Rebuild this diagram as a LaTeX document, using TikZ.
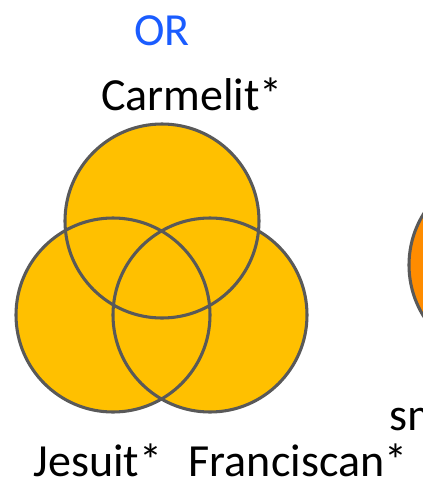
\documentclass[tikz,border=0pt]{standalone}
\usepackage{fontspec}
\setmainfont{Carlito}
\usetikzlibrary{positioning}
\definecolor{gold}{HTML}{FFC000}
\definecolor{tang}{HTML}{FF8C00}
\definecolor{rim}{HTML}{595959}
\definecolor{orblue}{HTML}{1A5CFF}
\tikzset{
  rimline/.style={draw=rim,line width=2.3pt},
  lbl/.style={font=\fontsize{34.5}{40}\selectfont,anchor=base,inner sep=0pt}
}
\begin{document}
\begin{tikzpicture}[x=0.75pt,y=-0.75pt]
  \useasboundingbox (0,0) rectangle (423,483);
  \clip (0,0) rectangle (423,483);
  % the three order circles, filled first and outlined after
  \foreach \cx/\cy in {162/221, 113/315, 210/315}
    \fill[gold] (\cx,\cy) circle[radius=97];
  \foreach \cx/\cy in {162/221, 113/315, 210/315}
    \draw[rimline] (\cx,\cy) circle[radius=97];
  % part of the next figure, cut by the page edge
  \draw[rimline,fill=tang] (506,265) circle[radius=97];
  % labels
  \node[lbl,text=orblue] (or) at (162,45) {OR};
  \node[lbl] (carm) at (192,110) {Carmelit*};
  \node[lbl] (jes) at (98,476) {Jesuit*};
  \node[lbl] (fran) at (298,476) {Franciscan*};
  \node[lbl,anchor=base west] (sm) at (389,430) {sm};
\end{tikzpicture}
\end{document}
